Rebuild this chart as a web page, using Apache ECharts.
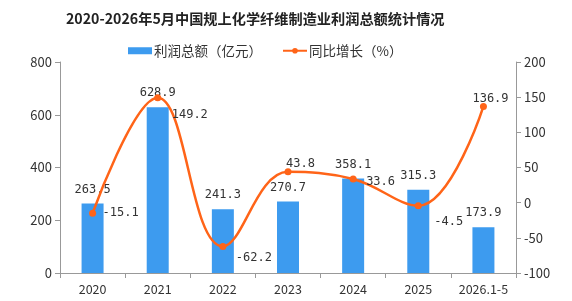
<!DOCTYPE html>
<html><head><meta charset="utf-8">
<script src="https://cdn.jsdelivr.net/npm/echarts@6/dist/echarts.min.js"></script>
<style>html,body{margin:0;padding:0;background:#fff}#c{width:572px;height:301px}</style>
</head><body><div id="c"></div>
<script>
var categories = ['2020','2021','2022','2023','2024','2025','2026.1-5'];
var profit = [263.5, 628.9, 241.3, 270.7, 358.1, 315.3, 173.9];
var growth = [-15.1, 149.2, -62.2, 43.8, 33.6, -4.5, 136.9];
var leftTicks = [0, 800, 200];
var rightTicks = [-100, 200, 50];

// label offsets for growth labels: [dx, dy] from point to label left edge / vertical centre
var growthLabelOffset = [[10,0],[14,17],[13,11],[-2,-8],[13,3],[16,16],[-11,-8]];

var chart = echarts.init(document.getElementById('c'));
var font = '"Noto Sans CJK SC", sans-serif';
var numFont = '"DejaVu Sans Mono", monospace';
chart.setOption({
  animation:false,
  title:{text:'2020-2026年5月中国规上化学纤维制造业利润总额统计情况',left:61,top:7,
    textStyle:{fontSize:14.2,fontWeight:'bold',color:'#222',fontFamily:font}},
  legend:{top:39,left:123,itemGap:20,itemWidth:24,itemHeight:7,
    textStyle:{fontSize:13.5,color:'#333',fontFamily:font,padding:[0,0,0,-3]},
    data:[{name:'利润总额（亿元）',icon:'rect'},{name:'同比增长（%）'}]},
  grid:{left:60,right:56,top:62,bottom:28},
  xAxis:{type:'category',data:categories,
    axisLine:{lineStyle:{color:'#999'}},axisTick:{show:true,lineStyle:{color:'#999'}},
    axisLabel:{color:'#333',fontSize:12.5,fontFamily:font,margin:10,interval:0}},
  yAxis:[
    {type:'value',min:leftTicks[0],max:leftTicks[1],interval:leftTicks[2],
     axisLine:{show:true,lineStyle:{color:'#999'}},axisTick:{show:true,lineStyle:{color:'#999'}},
     splitLine:{show:false},axisLabel:{color:'#333',fontSize:13,fontFamily:font}},
    {type:'value',min:rightTicks[0],max:rightTicks[1],interval:rightTicks[2],
     axisLine:{show:true,lineStyle:{color:'#999'}},axisTick:{show:true,lineStyle:{color:'#999'}},
     splitLine:{show:false},axisLabel:{color:'#333',fontSize:13,fontFamily:font}}
  ],
  series:[
    {name:'利润总额（亿元）',type:'bar',data:profit,barWidth:22,
     itemStyle:{color:'#3d9bef'},
     label:{show:true,position:'top',color:'#333',fontSize:12,fontFamily:numFont,distance:8}},
    {name:'同比增长（%）',type:'line',yAxisIndex:1,smooth:0.4,data:growth.map(function(v,i){
       var p=growthLabelOffset[i];
       return {value:v,label:{offset:[p[0],p[1]]}};
     }),
     symbol:'circle',symbolSize:7,
     lineStyle:{color:'#ff6418',width:2.5},itemStyle:{color:'#ff6418'},
     label:{show:true,position:'inside',align:'left',verticalAlign:'middle',color:'#333',fontSize:12,fontFamily:numFont}}
  ]
});
</script></body></html>
